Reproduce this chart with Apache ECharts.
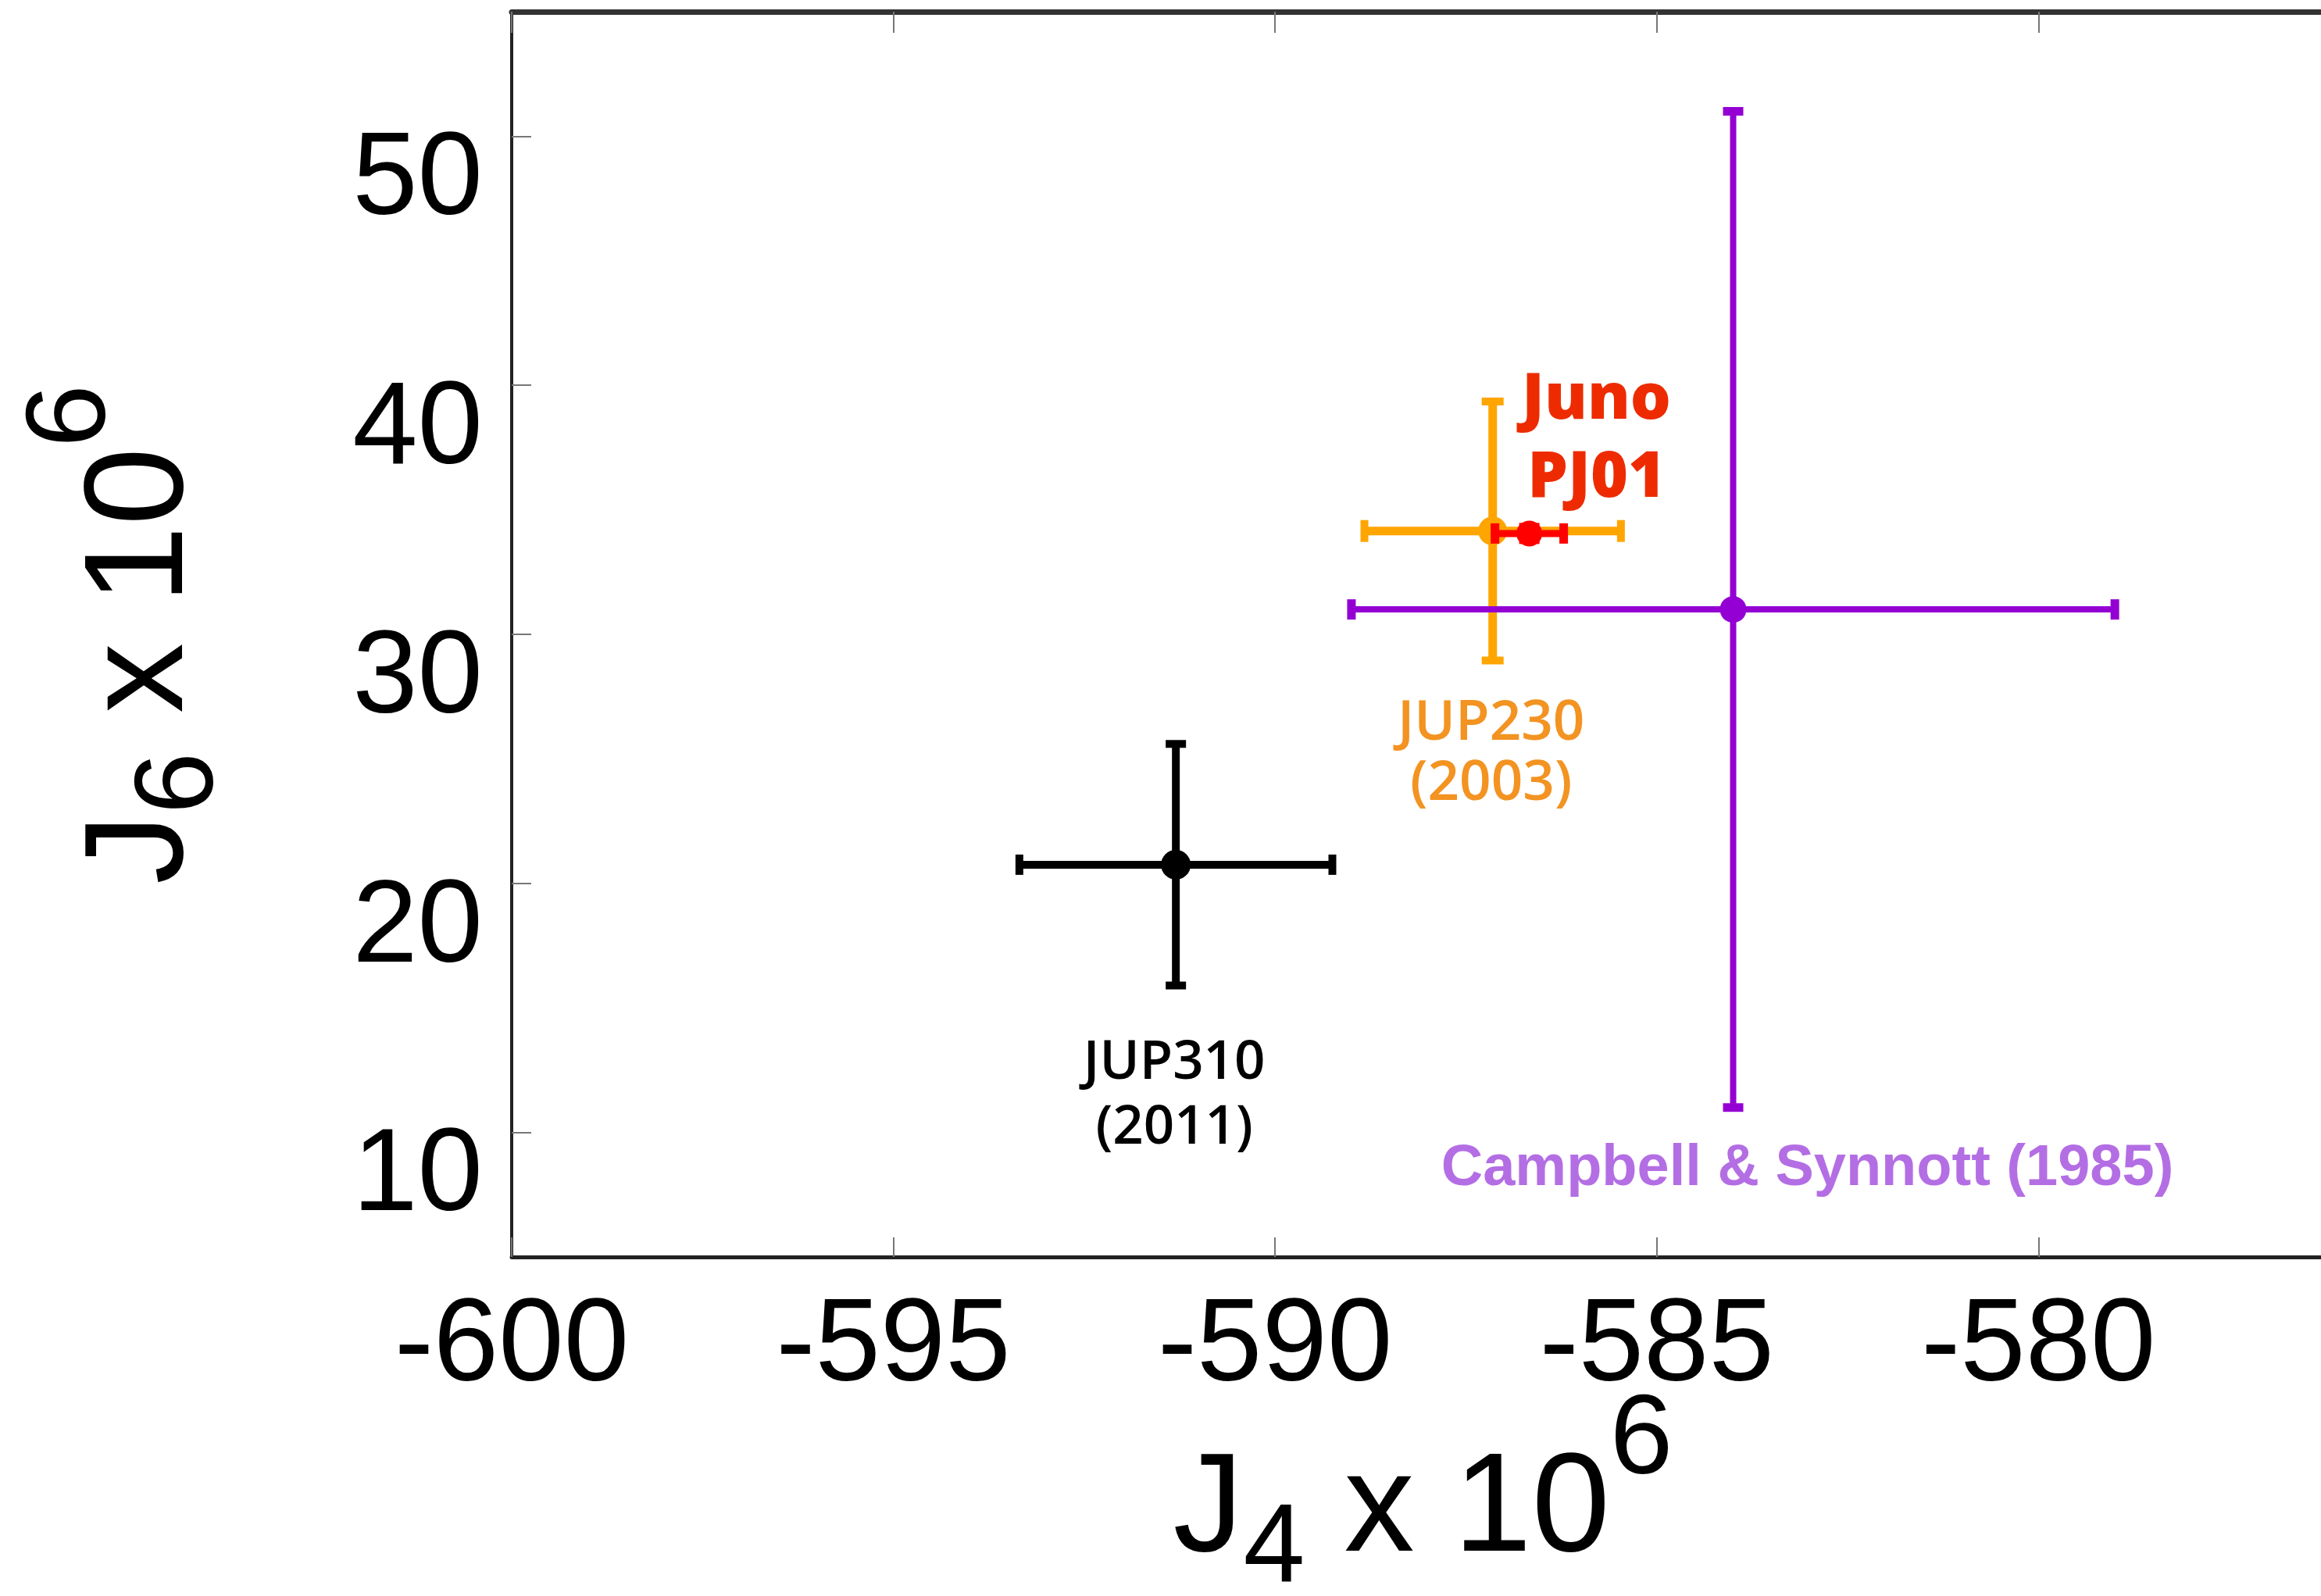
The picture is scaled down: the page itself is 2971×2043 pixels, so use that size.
<!DOCTYPE html>
<html>
<head>
<meta charset="utf-8">
<script src="https://cdn.jsdelivr.net/npm/echarts@6/dist/echarts.min.js"></script>
<style>
html,body{margin:0;padding:0;background:#fff;}
#c{width:2971px;height:2043px;}
</style>
</head>
<body>
<div id="c"></div>
<script>
// ---- data (J4 x 1e6, J6 x 1e6 with 1-sigma errors) ----
const names   = ['JUP230 (2003)', 'Campbell & Synnott (1985)', 'JUP310 (2011)', 'Juno PJ01'];
const labels  = ['JUP230\n(2003)', 'Campbell & Synnott (1985)', 'JUP310\n(2011)', 'Juno\nPJ01'];
const j4      = [-587.15, -584.0, -591.3, -586.67];
const j4Err   = [1.68, 5.0, 2.05, 0.45];
const j6      = [34.15, 31.0, 20.75, 34.05];
const j6Err   = [5.2, 20.0, 4.85, 0.25];
const xTicks  = [-600, -595, -590, -585, -580];
const yTicks  = [10, 20, 30, 40, 50];

// ---- styles ----
const FONT = '"Liberation Sans", Arial, Helvetica, sans-serif';
const HUM = '"Open Sans", Lato, sans-serif';
const looks = [
  {color:'#FFA500', lw:11, cap:28, capW:10, r:18.5,
   lab:{fill:'#F39322', size:71, weight:600, family:HUM, lh:77, dx:-2, dy:286, anchor:'center'}},
  {color:'#9400D3', lw:8, cap:26, capW:11, r:17,
   lab:{fill:'#B46EE4', size:74, weight:'bold', family:FONT, lh:80, dx:95, dy:79, anchor:'bottom'}},
  {color:'#000000', lw:10, cap:26, capW:10, r:19,
   lab:{fill:'#000000', size:69, weight:600, family:HUM, lh:83, dx:-2, dy:296, anchor:'center'}},
  {color:'#FF0000', lw:9, cap:26, capW:11, r:16.5,
   lab:{fill:'#EE2B00', size:82, weight:800, family:HUM, lh:100, dx:86, dy:-120, anchor:'center'}}
];

function makeRender(k) {
  const s = looks[k];
  return function (params, api) {
    const x = api.value(0), y = api.value(1), ex = api.value(2), ey = api.value(3);
    const c = api.coord([x, y]);
    const l = api.coord([x - ex, y]), r = api.coord([x + ex, y]);
    const t = api.coord([x, y + ey]), b = api.coord([x, y - ey]);
    const st = {stroke: s.color, lineWidth: s.lw};
    const cs = {stroke: s.color, lineWidth: s.capW};
    const h = s.cap / 2;
    const children = [
      {type:'line', shape:{x1:l[0], y1:l[1], x2:r[0], y2:r[1]}, style:st},
      {type:'line', shape:{x1:t[0], y1:t[1], x2:b[0], y2:b[1]}, style:st},
      {type:'line', shape:{x1:l[0], y1:l[1]-h, x2:l[0], y2:l[1]+h}, style:cs},
      {type:'line', shape:{x1:r[0], y1:r[1]-h, x2:r[0], y2:r[1]+h}, style:cs},
      {type:'line', shape:{x1:t[0]-h, y1:t[1], x2:t[0]+h, y2:t[1]}, style:cs},
      {type:'line', shape:{x1:b[0]-h, y1:b[1], x2:b[0]+h, y2:b[1]}, style:cs},
      {type:'circle', shape:{cx:c[0], cy:c[1], r:s.r}, style:{fill:s.color}}
    ];
    const a = s.lab.anchor === 'bottom' ? b : c;
    children.push({
      type:'text',
      x: a[0] + s.lab.dx, y: a[1] + s.lab.dy,
      style:{
        text: labels[k], fill: s.lab.fill,
        fontSize: s.lab.size, fontWeight: s.lab.weight, fontFamily: s.lab.family,
        lineHeight: s.lab.lh, align:'center', verticalAlign:'middle'
      }
    });
    return {type:'group', children};
  };
}

const series = names.map((n, k) => ({
  type:'custom', name:n, coordinateSystem:'cartesian2d',
  xAxisIndex:0, yAxisIndex:0,
  renderItem: makeRender(k),
  data: [[j4[k], j6[k], j4Err[k], j6Err[k]]],
  z: 2 + k
}));

const titleRich = {
  m:{fontSize:180, lineHeight:180, fontFamily:FONT, color:'#000', verticalAlign:'middle'},
  s:{fontSize:142, lineHeight:180, fontFamily:FONT, color:'#000', verticalAlign:'middle', padding:[100,0,0,0]},
  p:{fontSize:145, lineHeight:180, fontFamily:FONT, color:'#000', verticalAlign:'middle', padding:[0,0,178,0]},
  px:{fontSize:145, lineHeight:180, fontFamily:FONT, color:'#000', verticalAlign:'middle', padding:[0,110,178,0]}
};

const chart = echarts.init(document.getElementById('c'), null, {renderer:'canvas'});
chart.setOption({
  animation:false,
  backgroundColor:'#ffffff',
  grid:{left:655, top:15, right:-127, bottom:434, containLabel:false, outerBoundsMode:'none'},
  xAxis:[
    {
      type:'value', position:'bottom', min:-600, max:-575, interval:5,
      axisLine:{show:true, onZero:false, lineStyle:{color:'#222', width:5}},
      axisTick:{show:true, inside:true, length:25, customValues:xTicks, lineStyle:{color:'#777', width:2}},
      axisLabel:{show:true, customValues:xTicks, fontSize:150, fontFamily:FONT, color:'#000', margin:42},
      splitLine:{show:false},
      name:'{m|J}{s|4}{m| x 10}{px|6}', nameLocation:'middle', nameGap:236, nameMoveOverlap:false,
      nameTextStyle:{color:'#000', fontFamily:FONT, rich:titleRich}
    },
    {
      type:'value', position:'top', min:-600, max:-575, interval:5,
      axisLine:{show:true, onZero:false, lineStyle:{color:'#333', width:7}},
      axisTick:{show:true, inside:true, length:27, customValues:xTicks, lineStyle:{color:'#777', width:2}},
      axisLabel:{show:false},
      splitLine:{show:false}
    }
  ],
  yAxis:[
    {
      type:'value', position:'left', min:5, max:55,
      axisLine:{show:true, onZero:false, lineStyle:{color:'#222', width:4}},
      axisTick:{show:true, inside:true, length:25, customValues:yTicks, lineStyle:{color:'#777', width:2}},
      axisLabel:{show:true, customValues:yTicks, fontSize:150, fontFamily:FONT, color:'#000', margin:37,
                 verticalAlign:'top', lineHeight:117},
      splitLine:{show:false},
      name:'{m|J}{s|6}{m| x 10}{p|6}', nameLocation:'middle', nameGap:382, nameMoveOverlap:false,
      nameTextStyle:{color:'#000', fontFamily:FONT, rich:titleRich}
    }
  ],
  series: series
});
</script>
</body>
</html>
